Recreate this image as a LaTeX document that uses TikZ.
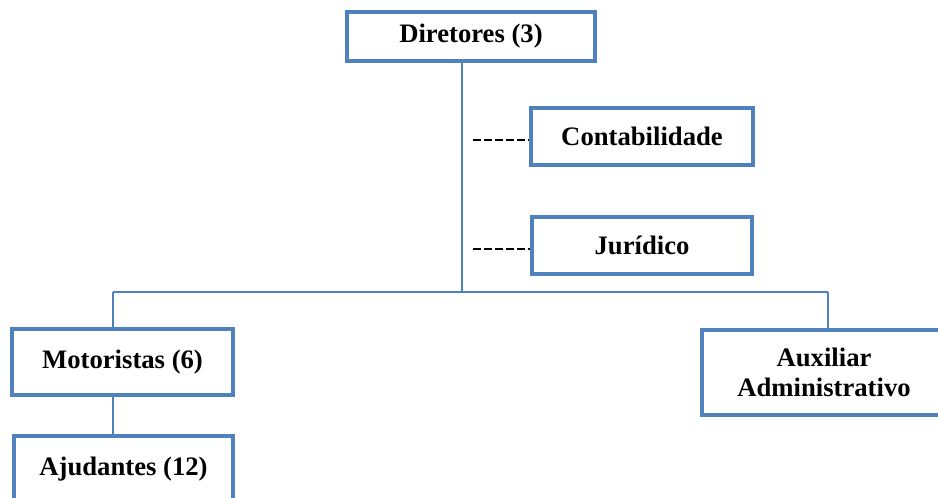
\documentclass[tikz,border=0pt]{standalone}
\usepackage{fontspec}
\setmainfont{Liberation Serif}
\usepackage{tikz}
\definecolor{boxblue}{RGB}{79,129,189}

\begin{document}
\begin{tikzpicture}
    [x=0.75pt, y=-0.75pt,
     every node/.style={inner sep=0pt, font=\fontsize{20}{22.5}\selectfont\bfseries},
     box/.style={rectangle, draw=boxblue, line width=3pt, fill=white, align=center},
     link/.style={line width=1.3pt, color=boxblue},
     dashlink/.style={line width=1.4pt, color=black, dash pattern=on 6pt off 2.3pt}]
        \useasboundingbox (0,0) rectangle (938,497);
        \clip (0,0) rectangle (938,497);
        \coordinate (hub) at (462, 292);
        \coordinate (hl) at (113, 292);
        \coordinate (hr) at (828, 292);
        \coordinate (d1) at (473, 140);
        \coordinate (d2) at (473, 249);
        \draw [link] (462, 60) -- (hub);
        \draw [link] (hl) -- (hr);
        \node (dir) [box, minimum width=186pt, minimum height=36.75pt] at (471, 36.5) {Diretores (3)};
        \node (cont) [box, minimum width=166.5pt, minimum height=42.75pt] at (642, 136) {Contabilidade};
        \node (jur) [box, minimum width=165pt, minimum height=42.75pt] at (642, 245) {Jurídico};
        \node (mot) [box, minimum width=165.75pt, minimum height=49.5pt] at (122.5, 362) {Motoristas (6)};
        \node (aju) [box, minimum width=164.25pt, minimum height=49.5pt] at (123.5, 469) {Ajudantes (12)};
        \node (aux) [box, minimum width=183pt, minimum height=63.75pt] at (824, 372.5) {Auxiliar\\Administrativo};
        \draw [dashlink] (d1) -- (d1 -| cont.west);
        \draw [dashlink] (d2) -- (d2 -| jur.west);
        \draw [link] (hl) -- (hl |- mot.north);
        \draw [link] (hl |- mot.south) -- (hl |- aju.north);
        \draw [link] (hr) -- (hr |- aux.north);
    \end{tikzpicture}
\end{document}
